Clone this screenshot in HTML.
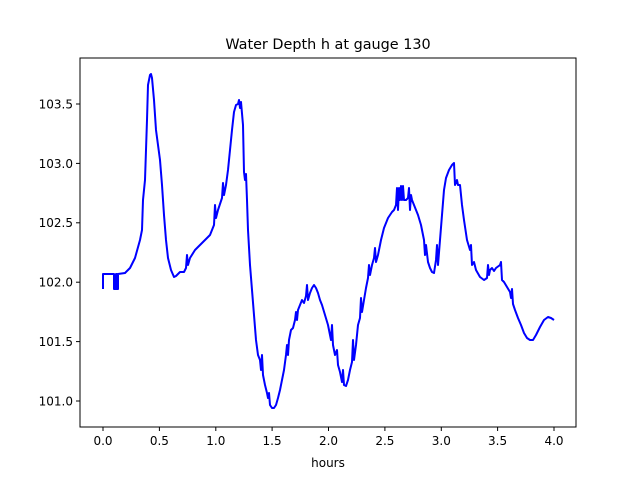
<!DOCTYPE html>
<html><head><style>
html,body{margin:0;padding:0;background:#fff;}
svg{display:block;font-family:"DejaVu Sans","Liberation Sans",sans-serif;}
</style></head><body>
<svg width="640" height="480" viewBox="0 0 640 480" xmlns="http://www.w3.org/2000/svg">
<rect width="640" height="480" fill="#fff"/>
<text x="328" y="49" font-size="14.4" text-anchor="middle" fill="#000">Water Depth h at gauge 130</text>
<polyline fill="none" stroke="#0000ff" stroke-width="2" stroke-linejoin="round" points="
103,289 103,274 114,274 114,289 116,289 116,274 117,274 117,289 118,289 118,274 125,273 128,270 130,268 135,258 140,240 142,230 143,200 144,190 145,180 146,150 147,120 148,85 150,75 151,74 152,78 154,100 156,130 158,145 160,160 162,185 164,215 166,240 168,258 171,270 174,277 176,276 180,272 184,272 186,268 187,255 188,265 190,258 195,250 200,245 205,240 210,235 214,225 215,205 216,218 218,210 222,198 223,183 224,195 226,185 228,170 230,150 232,130 234,112 236,105 238,104 239,100 240,108 241,102 243,125 244,172 245,180 246,174 247,200 248,230 250,265 252,290 254,315 256,340 258,355 260,360 261,370 262,355 263,375 265,385 267,393 268,398 269,393 270,405 272,408 274,408 276,405 278,398 280,390 282,380 284,370 286,355 287,345 288,355 289,340 291,330 293,328 295,320 296,312 297,320 298,310 300,305 302,300 304,303 306,296 307,285 308,300 310,293 312,288 314,285 316,288 318,293 320,300 322,305 325,315 328,325 331,340 332,325 333,345 335,355 337,350 338,365 340,372 342,382 343,370 344,385 346,386 348,380 350,370 352,362 353,340 354,360 356,345 358,325 360,318 361,298 362,312 364,300 366,288 368,278 369,265 370,275 372,265 374,258 375,248 376,262 378,255 381,240 384,228 388,218 392,212 394,210 396,205 397,188 398,210 399,188 400,200 401,186 402,200 403,186 404,200 406,200 408,198 409,188 410,210 411,195 412,200 414,205 418,215 421,225 424,240 425,255 426,245 428,262 430,268 432,272 434,273 436,260 437,245 438,265 440,240 442,215 444,190 446,178 449,170 452,165 454,163 455,185 457,180 458,185 460,185 462,205 464,220 467,240 470,250 471,245 472,265 474,262 476,270 480,277 484,280 487,278 488,265 489,275 490,270 492,268 494,271 496,268 500,265 501,262 502,280 504,282 507,287 510,292 511,298 512,289 513,304 515,310 518,318 521,325 524,333 527,338 530,340 533,340 536,335 540,327 544,320 548,317 551,318 554,320"/>
<rect x="80" y="58" width="496" height="369" fill="none" stroke="#000" stroke-width="1"/>
<g stroke="#000" stroke-width="1">
<line x1="103" y1="427" x2="103" y2="431"/><line x1="159.4" y1="427" x2="159.4" y2="431"/><line x1="215.8" y1="427" x2="215.8" y2="431"/><line x1="272.1" y1="427" x2="272.1" y2="431"/><line x1="328.5" y1="427" x2="328.5" y2="431"/><line x1="384.9" y1="427" x2="384.9" y2="431"/><line x1="441.3" y1="427" x2="441.3" y2="431"/><line x1="497.6" y1="427" x2="497.6" y2="431"/><line x1="554" y1="427" x2="554" y2="431"/>
<line x1="76" y1="401" x2="80" y2="401"/><line x1="76" y1="341.6" x2="80" y2="341.6"/><line x1="76" y1="282.2" x2="80" y2="282.2"/><line x1="76" y1="222.8" x2="80" y2="222.8"/><line x1="76" y1="163.4" x2="80" y2="163.4"/><line x1="76" y1="104" x2="80" y2="104"/>
</g>
<g font-size="12" fill="#000" text-anchor="middle">
<text x="103" y="445">0.0</text><text x="159.4" y="445">0.5</text><text x="215.8" y="445">1.0</text><text x="272.1" y="445">1.5</text><text x="328.5" y="445">2.0</text><text x="384.9" y="445">2.5</text><text x="441.3" y="445">3.0</text><text x="497.6" y="445">3.5</text><text x="554" y="445">4.0</text>
<text x="328" y="467">hours</text>
</g>
<g font-size="12" fill="#000" text-anchor="end">
<text x="73" y="405.5">101.0</text><text x="73" y="346">101.5</text><text x="73" y="286.5">102.0</text><text x="73" y="227">102.5</text><text x="73" y="168">103.0</text><text x="73" y="108.5">103.5</text>
</g>
</svg>
</body></html>
